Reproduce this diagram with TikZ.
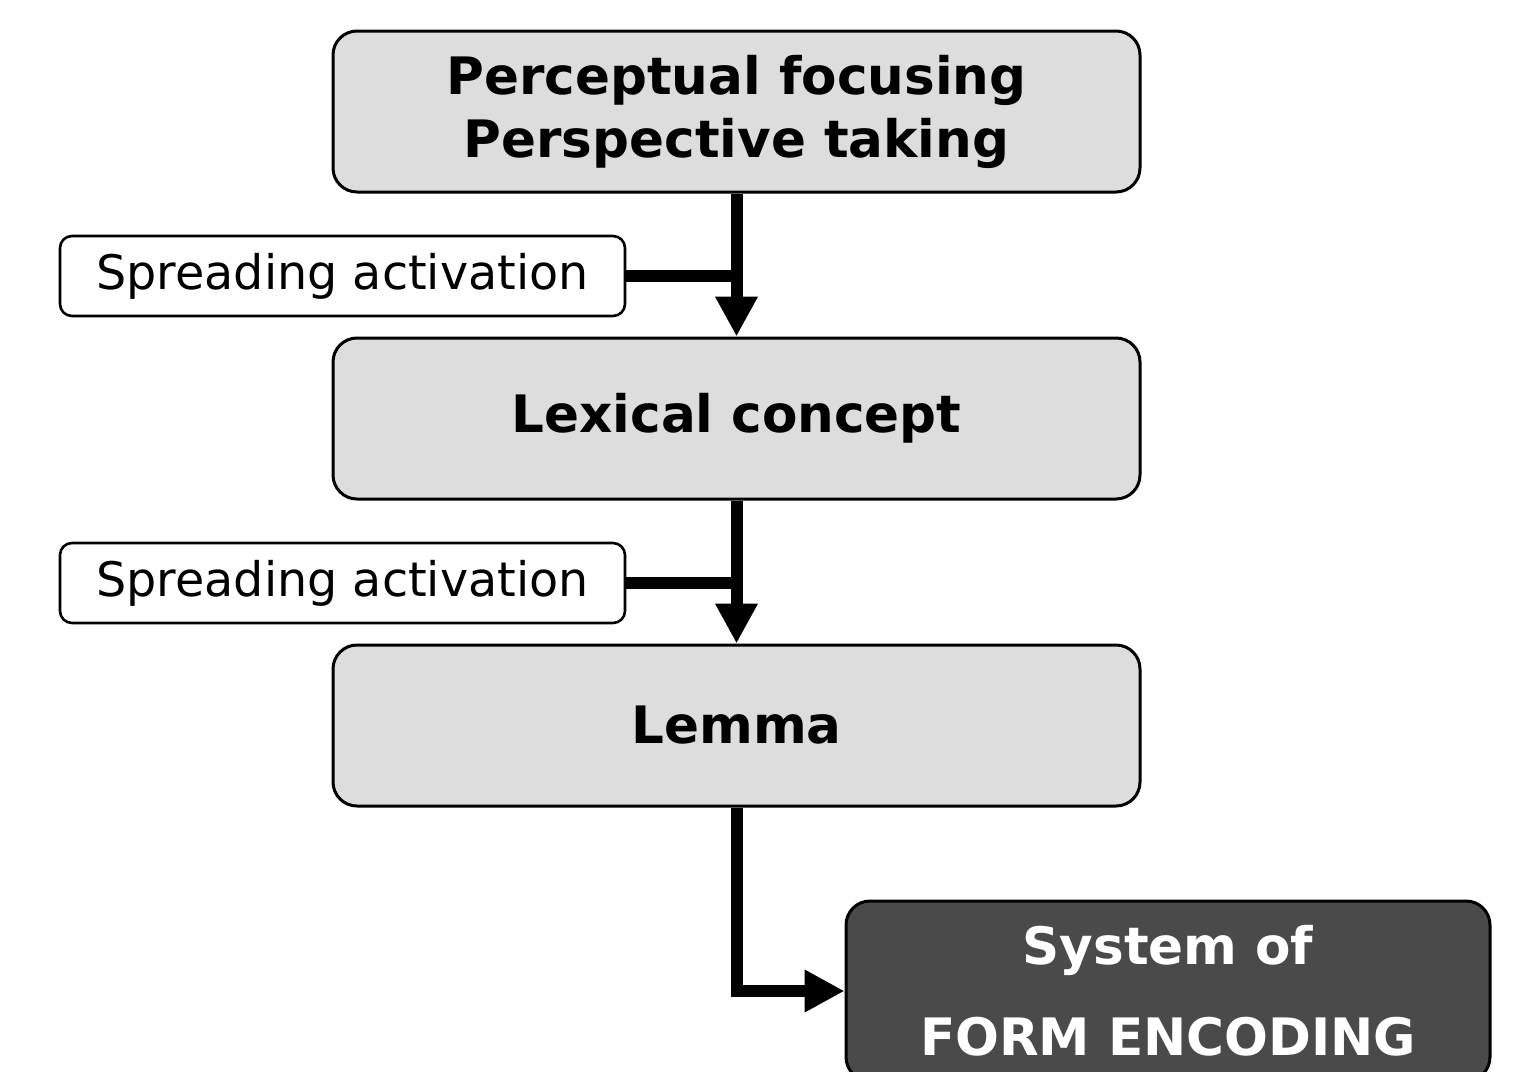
\documentclass[tikz,border=0pt]{standalone}
\usepackage{fontspec}
\setmainfont{DejaVu Sans}
\usetikzlibrary{arrows.meta}
\definecolor{boxgray}{HTML}{DDDDDD}
\definecolor{darkbox}{HTML}{4A4A4A}
\begin{document}
\begin{tikzpicture}[x=0.5pt,y=-0.5pt,
  mainbox/.style={draw=black, line width=1.5pt, fill=boxgray, rounded corners=12pt,
    minimum width=403.5pt, minimum height=80.5pt, inner sep=0pt, align=center,
    font=\fontsize{25.8}{31.5}\selectfont\bfseries},
  sidebox/.style={draw=black, line width=1.3pt, fill=white, rounded corners=6pt,
    minimum width=282.5pt, minimum height=40pt, inner sep=0pt,
    font=\fontsize{23.8}{28}\selectfont},
  darkstyle/.style={draw=black, line width=1.5pt, fill=darkbox, rounded corners=12pt,
    minimum width=322pt, minimum height=90pt, inner sep=0pt, align=center, text=white,
    font=\fontsize{25.8}{45.5}\selectfont\bfseries},
  conn/.style={line width=6pt},
  arr/.style={line width=6pt, -{Triangle[length=20pt,width=20pt]}}
]
\clip (0,0) rectangle (1515,1071);
\fill[white] (0,0) rectangle (1515,1071);
\node[mainbox] (b1) at (736.5,111.5) {Perceptual focusing\\Perspective taking};
\node[mainbox] (b2) at (736.5,418.5) {Lexical concept};
\node[mainbox] (b3) at (736.5,725.5) {Lemma};
\node[darkstyle] (b4) at (1168,991) {System of\\FORM ENCODING};
\node[sidebox] (s1) at (342.5,276) {Spreading activation};
\node[sidebox] (s2) at (342.5,583) {Spreading activation};
\coordinate (j1) at (737,276);
\coordinate (j2) at (737,583);
\draw[arr] (b1.south) -- (b2.north);
\draw[arr] (b2.south) -- (b3.north);
\draw[conn] (s1.east) -- (j1);
\draw[conn] (s2.east) -- (j2);
\draw[arr] (b3.south) |- (b4.west);
\end{tikzpicture}
\end{document}
